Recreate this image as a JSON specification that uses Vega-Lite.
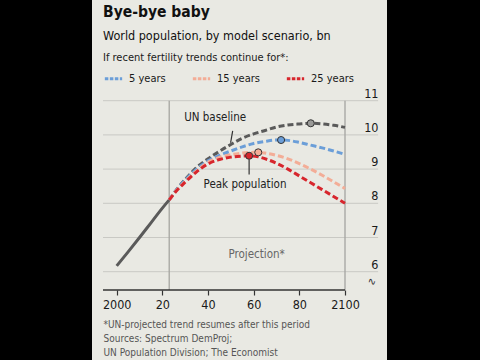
{
  "$schema": "https://vega.github.io/schema/vega-lite/v6.json",
  "autosize": {"type": "none"},
  "padding": {"left": 92, "right": 93, "top": 0, "bottom": 0},
  "background": "#000000",
  "width": 295,
  "height": 360,
  "config": {
    "view": {"stroke": null, "fill": "#e9e9e3"},
    "font": "Liberation Sans Narrow, DejaVu Sans Condensed, Roboto, sans-serif"
  },
  "title": {
    "text": "Bye-bye baby",
    "subtitle": "World population, by model scenario, bn",
    "anchor": "start", "frame": "group", "orient": "top", "offset": -42, "dx": 11,
    "fontSize": 15.5, "fontWeight": "bold", "color": "#111111",
    "subtitleFontSize": 12.5, "subtitleColor": "#111111", "subtitlePadding": 9
  },
  "datasets": {
    "hist": [
      {"year": 2000, "pop": 6.17}, {"year": 2005, "pop": 6.58}, {"year": 2010, "pop": 7.0},
      {"year": 2015, "pop": 7.43}, {"year": 2020, "pop": 7.86}, {"year": 2023, "pop": 8.1}
    ],
    "proj": [
      {"s": "UN baseline", "year": 2023, "pop": 8.1}, {"s": "UN baseline", "year": 2026, "pop": 8.38},
      {"s": "UN baseline", "year": 2030, "pop": 8.7}, {"s": "UN baseline", "year": 2035, "pop": 9.05},
      {"s": "UN baseline", "year": 2040, "pop": 9.3}, {"s": "UN baseline", "year": 2045, "pop": 9.52},
      {"s": "UN baseline", "year": 2050, "pop": 9.72}, {"s": "UN baseline", "year": 2055, "pop": 9.9},
      {"s": "UN baseline", "year": 2060, "pop": 10.03}, {"s": "UN baseline", "year": 2065, "pop": 10.13},
      {"s": "UN baseline", "year": 2070, "pop": 10.23}, {"s": "UN baseline", "year": 2075, "pop": 10.29},
      {"s": "UN baseline", "year": 2080, "pop": 10.32}, {"s": "UN baseline", "year": 2085, "pop": 10.34},
      {"s": "UN baseline", "year": 2090, "pop": 10.32}, {"s": "UN baseline", "year": 2095, "pop": 10.28},
      {"s": "UN baseline", "year": 2100, "pop": 10.22},
      {"s": "5 years", "year": 2023, "pop": 8.1}, {"s": "5 years", "year": 2026, "pop": 8.38},
      {"s": "5 years", "year": 2030, "pop": 8.68}, {"s": "5 years", "year": 2035, "pop": 9.0},
      {"s": "5 years", "year": 2040, "pop": 9.24}, {"s": "5 years", "year": 2045, "pop": 9.4},
      {"s": "5 years", "year": 2050, "pop": 9.53}, {"s": "5 years", "year": 2055, "pop": 9.65},
      {"s": "5 years", "year": 2060, "pop": 9.75}, {"s": "5 years", "year": 2065, "pop": 9.81},
      {"s": "5 years", "year": 2070, "pop": 9.85}, {"s": "5 years", "year": 2072, "pop": 9.85},
      {"s": "5 years", "year": 2075, "pop": 9.84}, {"s": "5 years", "year": 2080, "pop": 9.78},
      {"s": "5 years", "year": 2085, "pop": 9.7}, {"s": "5 years", "year": 2090, "pop": 9.62},
      {"s": "5 years", "year": 2095, "pop": 9.53}, {"s": "5 years", "year": 2100, "pop": 9.43},
      {"s": "15 years", "year": 2023, "pop": 8.1}, {"s": "15 years", "year": 2026, "pop": 8.36},
      {"s": "15 years", "year": 2030, "pop": 8.64}, {"s": "15 years", "year": 2035, "pop": 8.95},
      {"s": "15 years", "year": 2040, "pop": 9.2}, {"s": "15 years", "year": 2045, "pop": 9.34},
      {"s": "15 years", "year": 2050, "pop": 9.42}, {"s": "15 years", "year": 2055, "pop": 9.47},
      {"s": "15 years", "year": 2060, "pop": 9.49}, {"s": "15 years", "year": 2062, "pop": 9.49},
      {"s": "15 years", "year": 2065, "pop": 9.47}, {"s": "15 years", "year": 2070, "pop": 9.4},
      {"s": "15 years", "year": 2075, "pop": 9.3}, {"s": "15 years", "year": 2080, "pop": 9.16},
      {"s": "15 years", "year": 2085, "pop": 9.0}, {"s": "15 years", "year": 2090, "pop": 8.82},
      {"s": "15 years", "year": 2095, "pop": 8.63}, {"s": "15 years", "year": 2100, "pop": 8.43},
      {"s": "25 years", "year": 2023, "pop": 8.1}, {"s": "25 years", "year": 2026, "pop": 8.35},
      {"s": "25 years", "year": 2030, "pop": 8.62}, {"s": "25 years", "year": 2035, "pop": 8.92},
      {"s": "25 years", "year": 2040, "pop": 9.15}, {"s": "25 years", "year": 2045, "pop": 9.28},
      {"s": "25 years", "year": 2050, "pop": 9.35}, {"s": "25 years", "year": 2055, "pop": 9.38},
      {"s": "25 years", "year": 2058, "pop": 9.39}, {"s": "25 years", "year": 2062, "pop": 9.36},
      {"s": "25 years", "year": 2066, "pop": 9.28}, {"s": "25 years", "year": 2070, "pop": 9.17},
      {"s": "25 years", "year": 2075, "pop": 9.0}, {"s": "25 years", "year": 2080, "pop": 8.8},
      {"s": "25 years", "year": 2085, "pop": 8.6}, {"s": "25 years", "year": 2090, "pop": 8.4},
      {"s": "25 years", "year": 2095, "pop": 8.2}, {"s": "25 years", "year": 2100, "pop": 8.0}
    ],
    "peaks": [
      {"s": "UN baseline", "year": 2085, "pop": 10.34},
      {"s": "5 years", "year": 2072, "pop": 9.85},
      {"s": "15 years", "year": 2062, "pop": 9.49},
      {"s": "25 years", "year": 2058, "pop": 9.39}
    ],
    "pointers": [
      {"year": 2050.8, "pop": 10.12, "year2": 2049.9, "pop2": 9.77},
      {"year": 2058, "pop": 9.28, "year2": 2058, "pop2": 8.84}
    ],
    "labels": [
      {"year": 2043.1, "pop": 10.49, "label": "UN baseline"},
      {"year": 2056.2, "pop": 8.53, "label": "Peak population"}
    ],
    "gridvals": [{"pop": 6}, {"pop": 7}, {"pop": 8}, {"pop": 9}, {"pop": 10}, {"pop": 11}],
    "periods": [{"year": 2023}, {"year": 2100}]
  },
  "layer": [
    {
      "data": {"name": "gridvals"},
      "mark": {"type": "rule", "color": "#c9c9c4", "strokeWidth": 1},
      "encoding": {
        "x": {"datum": 1994, "type": "quantitative", "scale": {"domain": [2000, 2100], "range": [24.7, 253], "nice": false, "zero": false}},
        "x2": {"datum": 2114.5},
        "y": {"field": "pop", "type": "quantitative", "scale": {"domain": [5.465, 11], "range": [290, 100.7], "nice": false, "zero": false}}
      }
    },
    {
      "data": {"name": "periods"},
      "mark": {"type": "rule", "color": "#a5a5a1", "strokeWidth": 1.3},
      "encoding": {
        "x": {"field": "year", "type": "quantitative", "scale": {"domain": [2000, 2100], "range": [24.7, 253], "nice": false, "zero": false}},
        "y": {"datum": 11, "type": "quantitative", "scale": {"domain": [5.465, 11], "range": [290, 100.7], "nice": false, "zero": false}},
        "y2": {"datum": 5.465}
      }
    },
    {
      "data": {"values": [{}]},
      "mark": {"type": "rule", "color": "#333333", "strokeWidth": 1.3},
      "encoding": {
        "x": {"datum": 1994, "type": "quantitative", "scale": {"domain": [2000, 2100], "range": [24.7, 253], "nice": false, "zero": false}},
        "x2": {"datum": 2100},
        "y": {"datum": 5.465, "type": "quantitative", "scale": {"domain": [5.465, 11], "range": [290, 100.7], "nice": false, "zero": false}}
      }
    },
    {
      "data": {"name": "hist"},
      "mark": {"type": "line", "color": "#5a5a5a", "strokeWidth": 3, "interpolate": "monotone"},
      "encoding": {
        "x": {
          "field": "year", "type": "quantitative",
          "scale": {"domain": [2000, 2100], "range": [24.7, 253], "nice": false, "zero": false},
          "axis": {
            "orient": "bottom", "offset": -70,
            "values": [2000, 2010, 2020, 2030, 2040, 2050, 2060, 2070, 2080, 2090, 2100],
            "format": "d",
            "labelExpr": "datum.value % 20 != 0 ? '' : (datum.value % 100 == 0 ? datum.label : slice(datum.label, 2))",
            "grid": false, "domain": false, "ticks": true,
            "tickColor": "#333333", "tickWidth": 1.2,
            "tickSize": {"condition": {"test": "datum.value % 20 == 0", "value": 5}, "value": 3},
            "labelPadding": 3, "labelFontSize": 12.5, "labelColor": "#1a1a1a", "labelFlush": false,
            "title": ["*UN-projected trend resumes after this period", "Sources: Spectrum DemProj;", "UN Population Division; The Economist"],
            "titleX": 11, "titleY": 29, "titleAlign": "left", "titleBaseline": "top", "titleAngle": 0,
            "titleFontSize": 10, "titleFontWeight": "normal", "titleColor": "#555555", "titleLineHeight": 14.3
          }
        },
        "y": {
          "field": "pop", "type": "quantitative",
          "scale": {"domain": [5.465, 11], "range": [290, 100.7], "nice": false, "zero": false},
          "axis": {
            "orient": "right", "offset": -9, "values": [6, 7, 8, 9, 10, 11], "format": "d",
            "grid": false, "domain": false, "ticks": false,
            "labelAlign": "right", "labelBaseline": "alphabetic", "labelPadding": 0,
            "labelOffset": -3.5, "labelFontSize": 12.5, "labelColor": "#1a1a1a", "title": null
          }
        }
      }
    },
    {
      "data": {"name": "proj"},
      "mark": {"type": "line", "strokeWidth": 3, "strokeDash": [6, 3], "interpolate": "monotone"},
      "encoding": {
        "x": {"field": "year", "type": "quantitative", "scale": {"domain": [2000, 2100], "range": [24.7, 253], "nice": false, "zero": false}},
        "y": {"field": "pop", "type": "quantitative", "scale": {"domain": [5.465, 11], "range": [290, 100.7], "nice": false, "zero": false}},
        "color": {
          "field": "s", "type": "nominal",
          "scale": {"domain": ["15 years", "25 years", "5 years", "UN baseline"], "range": ["#f3ad97", "#d7262d", "#6b9ed8", "#5a5a5a"]},
          "legend": {
            "orient": "none", "legendX": 11, "legendY": 52, "direction": "horizontal",
            "values": ["5 years", "15 years", "25 years"],
            "title": "If recent fertility trends continue for*:", "titleLimit": 300,
            "titleFontSize": 11, "titleFontWeight": "normal", "titleColor": "#1a1a1a", "titlePadding": 5,
            "labelFontSize": 11, "labelColor": "#1a1a1a", "labelOffset": 5,
            "symbolType": "stroke", "symbolStrokeWidth": 3, "symbolSize": 300, "symbolDash": [3.5, 1.5],
            "columnPadding": 20, "padding": 0
          }
        }
      }
    },
    {
      "data": {"name": "peaks"},
      "mark": {"type": "circle", "size": 50, "stroke": "#333333", "strokeWidth": 1, "opacity": 1},
      "encoding": {
        "x": {"field": "year", "type": "quantitative", "scale": {"domain": [2000, 2100], "range": [24.7, 253], "nice": false, "zero": false}},
        "y": {"field": "pop", "type": "quantitative", "scale": {"domain": [5.465, 11], "range": [290, 100.7], "nice": false, "zero": false}},
        "fill": {
          "field": "s", "type": "nominal",
          "scale": {"domain": ["15 years", "25 years", "5 years", "UN baseline"], "range": ["#f3ad97", "#d7262d", "#6b9ed8", "#9a9a98"]},
          "legend": null
        }
      }
    },
    {
      "data": {"name": "pointers"},
      "mark": {"type": "rule", "color": "#333333", "strokeWidth": 1.2},
      "encoding": {
        "x": {"field": "year", "type": "quantitative", "scale": {"domain": [2000, 2100], "range": [24.7, 253], "nice": false, "zero": false}},
        "y": {"field": "pop", "type": "quantitative", "scale": {"domain": [5.465, 11], "range": [290, 100.7], "nice": false, "zero": false}},
        "x2": {"field": "year2"},
        "y2": {"field": "pop2"}
      }
    },
    {
      "data": {"name": "labels"},
      "mark": {"type": "text", "fontSize": 11.5, "color": "#222222", "baseline": "middle", "align": "center"},
      "encoding": {
        "x": {"field": "year", "type": "quantitative", "scale": {"domain": [2000, 2100], "range": [24.7, 253], "nice": false, "zero": false}},
        "y": {"field": "pop", "type": "quantitative", "scale": {"domain": [5.465, 11], "range": [290, 100.7], "nice": false, "zero": false}},
        "text": {"field": "label"}
      }
    },
    {
      "data": {"values": [{"year": 2061.3, "pop": 6.49, "label": "Projection*"}]},
      "mark": {"type": "text", "fontSize": 11.5, "color": "#666666", "baseline": "middle", "align": "center"},
      "encoding": {
        "x": {"field": "year", "type": "quantitative", "scale": {"domain": [2000, 2100], "range": [24.7, 253], "nice": false, "zero": false}},
        "y": {"field": "pop", "type": "quantitative", "scale": {"domain": [5.465, 11], "range": [290, 100.7], "nice": false, "zero": false}},
        "text": {"field": "label"}
      }
    },
    {
      "data": {"values": [{"year": 2111.8, "pop": 5.7, "label": "∿"}]},
      "mark": {"type": "text", "fontSize": 11, "color": "#333333", "baseline": "middle", "align": "center"},
      "encoding": {
        "x": {"field": "year", "type": "quantitative", "scale": {"domain": [2000, 2100], "range": [24.7, 253], "nice": false, "zero": false}},
        "y": {"field": "pop", "type": "quantitative", "scale": {"domain": [5.465, 11], "range": [290, 100.7], "nice": false, "zero": false}},
        "text": {"field": "label"}
      }
    }
  ]
}
